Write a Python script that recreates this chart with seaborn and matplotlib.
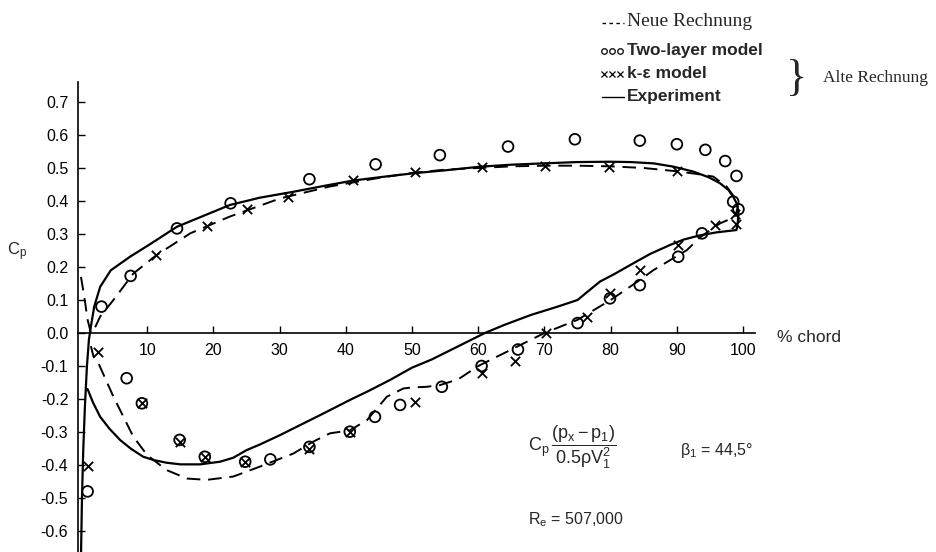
import numpy as np
import pandas as pd
import matplotlib
matplotlib.use("Agg")
import matplotlib.pyplot as plt
import seaborn as sns
from matplotlib.lines import Line2D

# ---------------- data ----------------
# Experiment (solid): upper part (incl. leading-edge plunge) then lower surface
exp_x = [0.0, 0.15, 0.35, 0.6, 0.9, 1.2, 1.5, 2.0, 2.9, 4.5, 7.4, 10.5, 14.5, 18.5, 22.5,
         27.0, 32.1, 36.5, 41.1, 45.5, 50.2, 55.0, 60.3, 65.0, 69.8, 75.0, 79.9, 83.0,
         86.5, 89.5, 92.5, 94.8, 96.5, 97.8, 98.5, 99.1, 99.3, 99.2, 99.0,
         96.0, 93.5, 91.0, 89.0, 86.0, 83.4, 80.5, 78.4, 76.5, 75.0, 72.0, 68.0, 64.0,
         61.0, 57.0, 53.0, 50.0, 46.7, 43.5, 40.6, 36.5, 33.0, 30.0, 27.0, 25.0, 23.0,
         21.0, 18.0, 15.0, 12.9, 11.0, 9.4, 7.5, 5.9, 4.3, 2.9, 1.8, 1.0]
exp_cp = [-0.68, -0.50, -0.35, -0.22, -0.10, -0.02, 0.02, 0.08, 0.14, 0.19, 0.231, 0.27,
          0.322, 0.355, 0.388, 0.41, 0.428, 0.445, 0.462, 0.473, 0.484, 0.493, 0.504,
          0.51, 0.514, 0.518, 0.519, 0.518, 0.514, 0.504, 0.489, 0.472, 0.454, 0.433,
          0.413, 0.39, 0.363, 0.335, 0.312,
          0.305, 0.296, 0.283, 0.267, 0.24, 0.211, 0.178, 0.156, 0.125, 0.10, 0.08,
          0.055, 0.025, 0.0, -0.04, -0.08, -0.105, -0.142, -0.175, -0.203, -0.245,
          -0.28, -0.31, -0.338, -0.355, -0.378, -0.39, -0.398, -0.398, -0.393, -0.385,
          -0.375, -0.35, -0.324, -0.29, -0.254, -0.21, -0.17]

# Neue Rechnung (dashed)
new_x = [0.0, 0.5, 1.0, 1.5, 2.2, 2.9, 4.9, 7.9, 11.4, 16.5, 22.5, 30.1, 37.6, 45.0,
         50.0, 55.0, 60.0, 65.0, 70.0, 75.0, 80.0, 85.0, 90.0, 93.0, 95.5, 97.5, 99.0,
         99.2, 98.8, 98.0, 96.5, 93.5, 91.5, 88.5, 86.5, 84.0, 80.0, 75.0, 70.0, 65.0,
         60.0, 57.0, 54.2, 52.2, 50.0, 48.7, 46.2, 43.2, 40.6, 37.6, 35.0, 32.1, 27.0,
         23.0, 19.0, 16.0, 12.9, 10.0, 7.9, 4.9, 2.6, 1.9, 1.5]
new_cp = [0.17, 0.11, 0.04, 0.0, 0.02, 0.05, 0.10, 0.18, 0.236, 0.302, 0.353, 0.408,
          0.444, 0.47, 0.485, 0.495, 0.50, 0.505, 0.507, 0.507, 0.505, 0.50, 0.49,
          0.482, 0.474, 0.444, 0.403, 0.38, 0.355, 0.345, 0.332, 0.29, 0.251, 0.215,
          0.191, 0.155, 0.10, 0.04, 0.0, -0.05, -0.10, -0.14, -0.158, -0.163, -0.165,
          -0.168, -0.193, -0.264, -0.295, -0.304, -0.33, -0.365, -0.405, -0.435,
          -0.445, -0.441, -0.415, -0.37, -0.314, -0.193, -0.09, -0.072, -0.04]

# Two-layer model (circles)
tl_x = [3.1, 7.5, 14.5, 22.6, 34.5, 44.5, 54.2, 64.5, 74.6, 84.4, 90.0, 94.3, 97.3, 99.0,
        98.5, 99.3, 93.8, 90.2, 84.4, 79.9, 75.0, 66.0, 60.5, 54.5, 48.2, 44.4, 40.6,
        34.5, 28.6, 24.8, 18.7, 14.9, 9.2, 6.9, 1.0]
tl_cp = [0.080, 0.173, 0.317, 0.393, 0.466, 0.511, 0.539, 0.565, 0.587, 0.583, 0.572,
         0.555, 0.521, 0.476, 0.398, 0.375, 0.302, 0.231, 0.145, 0.105, 0.03, -0.05,
         -0.10, -0.163, -0.218, -0.254, -0.299, -0.345, -0.383, -0.39, -0.375, -0.324,
         -0.213, -0.137, -0.48]

# k-epsilon model (crosses)
ke_x = [11.4, 19.0, 25.0, 31.3, 41.1, 50.5, 60.5, 70.1, 79.7, 90.0, 98.8, 99.0, 95.8,
        90.2, 84.4, 79.9, 76.5, 70.3, 65.5, 60.5, 50.5, 40.6, 34.5, 24.8, 18.7, 14.9,
        9.2, 2.6, 1.0]
ke_cp = [0.236, 0.324, 0.375, 0.413, 0.464, 0.489, 0.504, 0.506, 0.504, 0.491, 0.36,
         0.33, 0.327, 0.267, 0.191, 0.121, 0.05, 0.0, -0.085, -0.12, -0.208, -0.299,
         -0.35, -0.39, -0.375, -0.33, -0.213, -0.057, -0.403]

yticks = [0.7, 0.6, 0.5, 0.4, 0.3, 0.2, 0.1, 0.0, -0.1, -0.2, -0.3, -0.4, -0.5, -0.6]
xticks = [10, 20, 30, 40, 50, 60, 70, 80, 90, 100]

# ---------------- figure ----------------
sns.set_theme(style="white")
plt.rcParams["font.family"] = ["Liberation Sans", "DejaVu Sans"]
plt.rcParams["mathtext.fontset"] = "custom"
plt.rcParams["mathtext.rm"] = "Liberation Sans"
plt.rcParams["mathtext.it"] = "Liberation Sans"
plt.rcParams["mathtext.bf"] = "Liberation Sans:bold"

W, H = 936, 552
fig = plt.figure(figsize=(W / 100, H / 100), dpi=100)
ax = fig.add_axes([78 / W, 0.0, (755 - 78) / W, (552 - 82) / H])
ax.set_xlim(-0.45, 101.8)
ax.set_ylim(-0.6636, 0.7606)


def P(x, y):
    return (x / W, 1 - y / H)


df_exp = pd.DataFrame({"x": exp_x, "cp": exp_cp})
df_new = pd.DataFrame({"x": new_x, "cp": new_cp})
df_tl = pd.DataFrame({"x": tl_x, "cp": tl_cp})
df_ke = pd.DataFrame({"x": ke_x, "cp": ke_cp})

sns.lineplot(data=df_exp, x="x", y="cp", sort=False, estimator=None, ax=ax,
             color="black", linewidth=1.6)
sns.lineplot(data=df_new, x="x", y="cp", sort=False, estimator=None, ax=ax,
             color="black", linewidth=1.4, linestyle=(0, (7, 4)))
sns.scatterplot(data=df_tl, x="x", y="cp", ax=ax, marker="o", s=60,
                facecolor="none", edgecolor="black", linewidth=1.3, zorder=5)
sns.scatterplot(data=df_ke, x="x", y="cp", ax=ax, marker="x", s=45,
                color="black", linewidth=1.3, zorder=5)

ax.set_xlabel("")
ax.set_ylabel("")
for s in ["top", "right"]:
    ax.spines[s].set_visible(False)
ax.spines["bottom"].set_position(("data", 0))
for s in ["left", "bottom"]:
    ax.spines[s].set_color("black")
    ax.spines[s].set_linewidth(1.2)

ax.set_xticks(xticks)
ax.set_xticklabels([str(t) for t in xticks])
ax.set_yticks(yticks)
ax.set_yticklabels(["%.1f" % t if t != 0 else "0.0" for t in yticks])
ax.tick_params(axis="both", direction="in", length=5, width=1, colors="black",
               labelsize=11.5, bottom=True, left=True)
ax.tick_params(axis="x", pad=7)
ax.tick_params(axis="y", pad=7)

# axis titles
fig.text(*P(17, 252), r"C$_\mathregular{p}$", fontsize=12, ha="center", va="center")
fig.text(*P(777, 338), "% chord", fontsize=12.5, ha="left", va="center")

# legend (hand-set as in original)
serif = ["Liberation Serif", "DejaVu Serif"]
fig.add_artist(Line2D([602 / W, 624 / W], [1 - 23 / H] * 2, transform=fig.transFigure,
                      color="black", lw=1.0, linestyle=(0, (2.5, 2.5))))
fig.text(*P(627, 22), "Neue Rechnung", fontsize=14, family=serif, ha="left", va="center")
fig.add_artist(Line2D([604 / W, 612 / W, 620 / W], [1 - 51 / H] * 3, transform=fig.transFigure,
                      color="black", lw=0, marker="o", ms=4, mfc="none", mew=0.9))
fig.text(*P(627, 50), "Two-layer model", fontsize=12.5, fontweight="bold", ha="left", va="center")
fig.add_artist(Line2D([604 / W, 612 / W, 620 / W], [1 - 74 / H] * 3, transform=fig.transFigure,
                      color="black", lw=0, marker="x", ms=4, mew=0.9))
fig.text(*P(627, 73), "k-ε model", fontsize=12.5, fontweight="bold", ha="left", va="center")
fig.add_artist(Line2D([602 / W, 624 / W], [1 - 97 / H] * 2, transform=fig.transFigure,
                      color="black", lw=1.0))
fig.text(*P(627, 97), "Experiment", fontsize=12.5, fontweight="bold", ha="left", va="center")
fig.text(*P(797, 79), "}", fontsize=32, family=serif, ha="center", va="center")
fig.text(*P(823, 78), "Alte Rechnung", fontsize=12.5, family=serif, ha="left", va="center")

# annotations
fig.text(*P(528, 447), r"$\mathregular{C_p\,\dfrac{(p_x - p_1)}{0.5\rho V_1^2}}$",
         fontsize=13, ha="left", va="center")
fig.text(*P(680, 450), r"$\mathregular{\beta_1}$ = 44,5°", fontsize=11.5, ha="left", va="center")
fig.text(*P(528, 520), r"R$_\mathregular{e}$ = 507,000", fontsize=11.5, ha="left", va="center")

fig.savefig("out.png", dpi=100)
